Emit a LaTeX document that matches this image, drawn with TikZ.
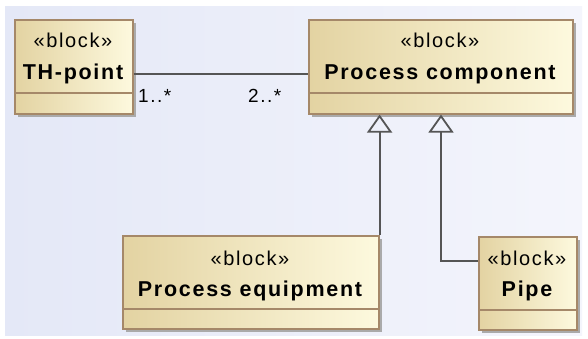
\documentclass[tikz,border=0pt]{standalone}
\usepackage{fontspec}
\setmainfont{Liberation Sans}
\newfontfamily\umlfont[LetterSpace=8]{Liberation Sans}
\usetikzlibrary{arrows.meta}

\definecolor{bgA}{RGB}{228,232,247}
\definecolor{bgB}{RGB}{244,245,252}
\definecolor{tanA}{RGB}{227,211,162}
\definecolor{tanB}{RGB}{253,249,222}
\definecolor{blockborder}{RGB}{165,136,105}
\definecolor{blockshadow}{RGB}{170,170,170}
\definecolor{connector}{RGB}{85,85,85}

\tikzset{
  blockbox/.style={draw=blockborder, line width=1.6pt, left color=tanA, right color=tanB,
    inner sep=0pt, anchor=north west},
  blockshade/.style={fill=blockshadow},
  blockrule/.style={draw=blockborder, line width=1.4pt},
  stereo/.style={font=\umlfont\fontsize{20}{22}\selectfont, inner sep=0pt, anchor=base},
  blockname/.style={font=\umlfont\bfseries\fontsize{21.5}{24}\selectfont, inner sep=0pt, anchor=base},
  mult/.style={font=\umlfont\fontsize{19}{21}\selectfont, inner sep=0pt, anchor=base west},
  conn/.style={draw=connector, line width=1.8pt},
  generalization/.style={conn, -{Triangle[open, width=25pt, length=18pt]}},
}

% block: name, left, top, right, bottom, compartment rule
\newcommand{\umlblock}[6]{%
  \fill[blockshade] (#2+4,#3+4) rectangle (#4+4,#5+4);
  \node[blockbox, minimum width=#4pt-#2pt, minimum height=#5pt-#3pt] (#1) at (#2,#3) {};
  \draw[blockrule] (#1.west |- 0,#6) -- (#1.east |- 0,#6);
}

\begin{document}
\begin{tikzpicture}[x=1pt, y=-1pt]
\useasboundingbox (0,0) rectangle (588,339);
\fill[white] (0,0) rectangle (588,339);
\shade[left color=bgA, right color=bgB] (5,7) rectangle (582,335);

% blocks
\umlblock{th}{14}{19}{132}{113}{93}
\umlblock{pc}{308}{19}{572}{113}{93}
\umlblock{pe}{122}{235}{378}{328}{309}
\umlblock{pipe}{478}{236}{576}{329}{310}

% block labels
\node[stereo] (thS) at (73,48) {«block»};
\node[blockname] (thN) at (73,80) {TH-point};
\node[stereo] (pcS) at (440,48) {«block»};
\node[blockname] (pcN) at (440,80) {Process component};
\node[stereo] (peS) at (250,265) {«block»};
\node[blockname] (peN) at (250,296) {Process equipment};
\node[stereo] (pipeS) at (527,265) {«block»};
\node[blockname] (pipeN) at (527,296) {Pipe};

% association with multiplicities
\coordinate (assoc) at (0,74);
\draw[conn] (th.east |- assoc) -- (pc.west |- assoc);
\node[mult] (m1) at (138,103) {1..*};
\node[mult] (m2) at (248,103) {2..*};

% generalizations
\draw[generalization] (pe.north east) -- (pe.north east |- pc.south);
\coordinate (bend) at (441,261);
\draw[generalization] (pipe.west |- bend) -| (bend |- pc.south);
\end{tikzpicture}
\end{document}
